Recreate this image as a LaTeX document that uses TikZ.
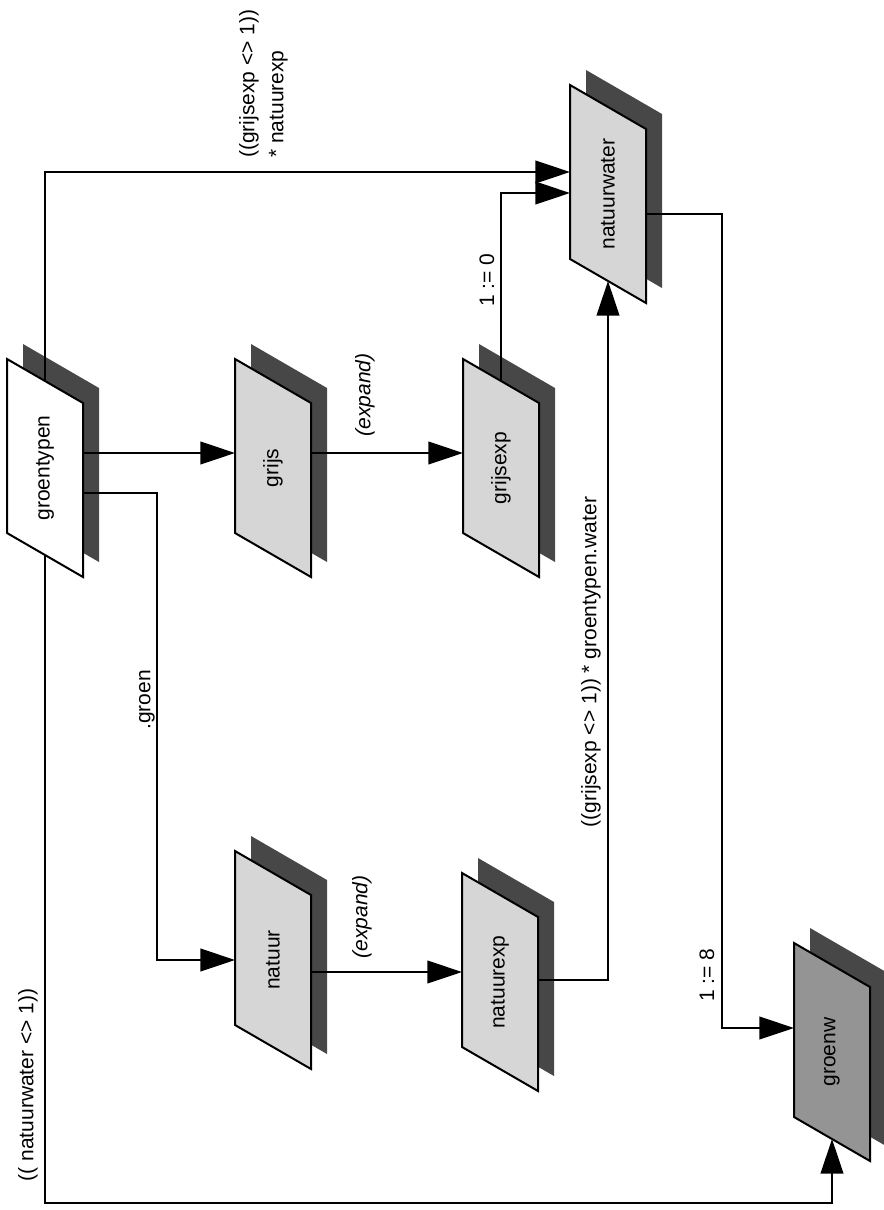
\documentclass[tikz,border=0pt]{standalone}
\usepackage{fontspec}
\setmainfont{Liberation Sans}
\usetikzlibrary{arrows.meta,calc}
\definecolor{backc}{gray}{0.28}
\definecolor{lightc}{gray}{0.84}
\definecolor{midc}{gray}{0.58}
\newcommand{\drawsheet}[5]{% name, left, top, fill, text
  \fill[backc] (#2+16,#3-15) -- (#2+92,#3+29) -- (#2+92,#3+203) -- (#2+16,#3+159) -- cycle;
  \filldraw[fill=#4, draw=black, line width=1.5pt, line join=miter]
     (#2,#3) -- (#2+76,#3+44) -- (#2+76,#3+218) -- (#2,#3+174) -- cycle;
  \node[lbl] (#1) at (#2+38,#3+109) {#5};
}
\begin{document}
\begin{tikzpicture}[x=0.75pt,y=-0.75pt,
  conn/.style={line width=1.5pt},
  arr/.style={conn,-{Triangle[length=26pt,width=17pt]}},
  lbl/.style={font=\fontsize{15.75}{21.75}\selectfont, inner sep=0pt, rotate=90},
  elbl/.style={lbl},
  ilbl/.style={lbl, font=\fontsize{15.75}{21.75}\selectfont\itshape}]
\useasboundingbox (0,0) rectangle (883,1210);

% sheets
\drawsheet{groentypen}{7}{359}{white}{groentypen}
\drawsheet{grijs}{235}{359}{lightc}{grijs}
\drawsheet{grijsexp}{463}{359}{lightc}{grijsexp}
\drawsheet{natuurwater}{570}{85}{lightc}{natuurwater}
\drawsheet{natuur}{235}{851}{lightc}{natuur}
\drawsheet{natuurexp}{462}{873}{lightc}{natuurexp}
\drawsheet{groenw}{794}{943}{midc}{groenw}

% connectors
\draw[arr] ($(groentypen.center)+(38,-15)$) -- ($(grijs.center)+(-38,-15)$);
\draw[arr] ($(grijs.center)+(38,-15)$) -- ($(grijsexp.center)+(-38,-15)$);
\draw[arr] ($(groentypen.center)+(38,25)$) -- ++(74,0) |- ($(natuur.center)+(-38,0)$);
\draw[arr] ($(natuur.center)+(38,12)$) -- ($(natuurexp.center)+(-38,-10)$);
\draw[arr] ($(groentypen.center)+(0,-87)$) |- ($(natuurwater.center)+(-38,-22)$);
\draw[arr] ($(grijsexp.center)+(0,-87)$) |- ($(natuurwater.center)+(-38,-1)$);
\draw[arr] ($(natuurexp.center)+(38,-2)$) -| ($(natuurwater.center)+(0,87)$);
\draw[arr] ($(natuurwater.center)+(38,20)$) -- ++(76,0) |- ($(groenw.center)+(-38,-24)$);
\draw[arr] ($(groentypen.center)+(0,87)$) -- ++(0,648) -| ($(groenw.center)+(0,87)$);

% labels
\node[elbl, align=left, anchor=south west] (l1) at (288,158) {((grijsexp <> 1))\\ * natuurexp};
\node[ilbl] (l2) at (365,395) {(expand)};
\node[ilbl] (l3) at (362,917) {(expand)};
\node[elbl] (l4) at (487,280) {1 := 0};
\node[elbl] (l5) at (591,662) {((grijsexp <> 1)) * groentypen.water};
\node[elbl] (l6) at (147,700) {.groen};
\node[elbl] (l7) at (707,975) {1 := 8};
\node[elbl] (l8) at (28,1085) {(( natuurwater <> 1))};
\end{tikzpicture}
\end{document}
